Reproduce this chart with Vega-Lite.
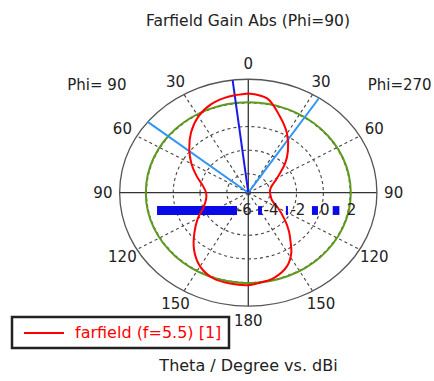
{
  "$schema": "https://vega.github.io/schema/vega-lite/v6.json",
  "width": 434,
  "height": 311,
  "autosize": {"type": "none"},
  "padding": {"top": 40, "bottom": 30, "left": 0, "right": 0},
  "background": "white",
  "config": {"view": {"stroke": null}, "font": "DejaVu Sans", "legend": {"strokeWidth": 2.5}},
  "title": {"text": "Farfield Gain Abs (Phi=90)", "font": "DejaVu Sans", "fontSize": 15.5, "fontWeight": "normal", "color": "#222", "anchor": "middle", "dx": 31, "offset": -1, "baseline": "alphabetic", "frame": "group"},
  "datasets": {
    "pattern": [
      {"phi": 90, "theta": 0, "gain": 2.8}, {"phi": 90, "theta": 10, "gain": 2.67}, {"phi": 90, "theta": 20, "gain": 2.4},
      {"phi": 90, "theta": 30, "gain": 1.85}, {"phi": 90, "theta": 40, "gain": 1.05}, {"phi": 90, "theta": 50, "gain": 0.15},
      {"phi": 90, "theta": 60, "gain": -0.7}, {"phi": 90, "theta": 70, "gain": -1.5}, {"phi": 90, "theta": 80, "gain": -2.15},
      {"phi": 90, "theta": 90, "gain": -2.45}, {"phi": 90, "theta": 100, "gain": -2.4}, {"phi": 90, "theta": 110, "gain": -2.05},
      {"phi": 90, "theta": 120, "gain": -1.25}, {"phi": 90, "theta": 130, "gain": -0.35}, {"phi": 90, "theta": 140, "gain": 0.7},
      {"phi": 90, "theta": 150, "gain": 1.6}, {"phi": 90, "theta": 160, "gain": 2.1}, {"phi": 90, "theta": 170, "gain": 2.2},
      {"phi": 90, "theta": 180, "gain": 2.22},
      {"phi": 270, "theta": 175, "gain": 2.1}, {"phi": 270, "theta": 165, "gain": 1.85}, {"phi": 270, "theta": 155, "gain": 1.25},
      {"phi": 270, "theta": 148, "gain": 0.45}, {"phi": 270, "theta": 142, "gain": -0.5}, {"phi": 270, "theta": 137, "gain": -1.15},
      {"phi": 270, "theta": 130, "gain": -2.05}, {"phi": 270, "theta": 120, "gain": -3.05}, {"phi": 270, "theta": 110, "gain": -3.72},
      {"phi": 270, "theta": 98, "gain": -3.92}, {"phi": 270, "theta": 87, "gain": -3.98}, {"phi": 270, "theta": 75, "gain": -3.85},
      {"phi": 270, "theta": 67, "gain": -3.55}, {"phi": 270, "theta": 62, "gain": -3.25}, {"phi": 270, "theta": 55, "gain": -2.7},
      {"phi": 270, "theta": 48, "gain": -1.9}, {"phi": 270, "theta": 40, "gain": -1.0}, {"phi": 270, "theta": 30, "gain": 0.18},
      {"phi": 270, "theta": 20, "gain": 1.28}, {"phi": 270, "theta": 10, "gain": 2.5}, {"phi": 270, "theta": 0, "gain": 2.8}
    ],
    "rings": [
      {"level": -4, "kind": "grid"}, {"level": -2, "kind": "grid"}, {"level": 0, "kind": "grid"}, {"level": 2, "kind": "grid"},
      {"level": 2.05, "kind": "ref"}, {"level": 4, "kind": "outer"}
    ],
    "spokes": [
      {"phi": 90, "theta": 0}, {"phi": 90, "theta": 90}, {"phi": 270, "theta": 90}, {"phi": 90, "theta": 180},
      {"phi": 90, "theta": 30}, {"phi": 90, "theta": 60}, {"phi": 90, "theta": 120}, {"phi": 90, "theta": 150},
      {"phi": 270, "theta": 30}, {"phi": 270, "theta": 60}, {"phi": 270, "theta": 120}, {"phi": 270, "theta": 150}
    ],
    "beams": [
      {"phi": 90, "theta": 7, "kind": "main"},
      {"phi": 90, "theta": 51.4, "kind": "width"},
      {"phi": 270, "theta": 33.4, "kind": "width"}
    ],
    "angleLabels": [
      {"phi": 90, "theta": 0, "label": "0"}, {"phi": 90, "theta": 30, "label": "30"}, {"phi": 90, "theta": 60, "label": "60"},
      {"phi": 90, "theta": 90, "label": "90"}, {"phi": 90, "theta": 120, "label": "120"}, {"phi": 90, "theta": 150, "label": "150"},
      {"phi": 90, "theta": 180, "label": "180"},
      {"phi": 270, "theta": 30, "label": "30"}, {"phi": 270, "theta": 60, "label": "60"}, {"phi": 270, "theta": 90, "label": "90"},
      {"phi": 270, "theta": 120, "label": "120"}, {"phi": 270, "theta": 150, "label": "150"}
    ],
    "dbLabels": [
      {"gain": -6, "label": "-6"}, {"gain": -4, "label": "-4"}, {"gain": -2, "label": "-2"}, {"gain": 0, "label": "0"}, {"gain": 2, "label": "2"}
    ],
    "bars": [
      {"from": -6.81, "to": -0.84}, {"from": 0.73, "to": 1.02}, {"from": 2.81, "to": 2.96}, {"from": 4.75, "to": 5.2}, {"from": 6.3, "to": 6.8}
    ],
    "phiLabels": [
      {"phi": 90, "label": "Phi= 90"}, {"phi": 270, "label": "Phi=270"}
    ]
  },
  "encoding": {
    "x": {"field": "x", "type": "quantitative", "scale": {"domain": [-18.53, 13.86], "nice": false, "zero": false},
      "axis": {"title": "Theta / Degree vs. dBi", "labels": false, "ticks": false, "domain": false, "grid": false,
        "titleFont": "DejaVu Sans", "titleFontSize": 16, "titleFontWeight": "normal", "titleColor": "#222", "titlePadding": 6, "titleX": 248}},
    "y": {"field": "y", "type": "quantitative", "scale": {"domain": [-13.39, 12.92], "nice": false, "zero": false}, "axis": null}
  },
  "layer": [
    {
      "data": {"name": "rings"},
      "transform": [{"filter": "datum.kind == 'grid'"}, {"calculate": "datum.level + 5.6", "as": "r"}, {"calculate": "0", "as": "x"}, {"calculate": "0", "as": "y"}],
      "mark": {"type": "point", "shape": "M-1,0A1,0.882,0,1,1,1,0A1,0.882,0,1,1,-1,0Z", "filled": false, "fill": null, "stroke": "#444", "strokeWidth": 1.1, "strokeDash": [3, 3], "opacity": 1},
      "encoding": {"size": {"field": "r", "type": "quantitative", "scale": {"type": "pow", "exponent": 2, "domain": [0, 9.6], "range": [0, 66193]}, "legend": null}}
    },
    {
      "data": {"name": "spokes"},
      "transform": [{"filter": "datum.theta % 90 != 0"}, {"calculate": "0", "as": "x"}, {"calculate": "0", "as": "y"},
        {"calculate": "9.6 * sin(datum.theta * PI / 180) * (datum.phi == 90 ? -1 : 1)", "as": "x2"},
        {"calculate": "9.6 * cos(datum.theta * PI / 180)", "as": "y2"}],
      "mark": {"type": "rule", "stroke": "#444", "strokeWidth": 1.1, "strokeDash": [3, 3]},
      "encoding": {"x2": {"field": "x2"}, "y2": {"field": "y2"}}
    },
    {
      "data": {"name": "spokes"},
      "transform": [{"filter": "datum.theta % 90 == 0"}, {"calculate": "0", "as": "x"}, {"calculate": "0", "as": "y"},
        {"calculate": "9.6 * sin(datum.theta * PI / 180) * (datum.phi == 90 ? -1 : 1)", "as": "x2"},
        {"calculate": "9.6 * cos(datum.theta * PI / 180)", "as": "y2"}],
      "mark": {"type": "rule", "stroke": "#333", "strokeWidth": 1.3},
      "encoding": {"x2": {"field": "x2"}, "y2": {"field": "y2"}}
    },
    {
      "data": {"name": "rings"},
      "transform": [{"filter": "datum.kind == 'outer'"}, {"calculate": "datum.level + 5.6", "as": "r"}, {"calculate": "0", "as": "x"}, {"calculate": "0", "as": "y"}],
      "mark": {"type": "point", "shape": "M-1,0A1,0.882,0,1,1,1,0A1,0.882,0,1,1,-1,0Z", "filled": false, "fill": null, "stroke": "#555", "strokeWidth": 1.3, "opacity": 1},
      "encoding": {"size": {"field": "r", "type": "quantitative", "scale": {"type": "pow", "exponent": 2, "domain": [0, 9.6], "range": [0, 66193]}, "legend": null}}
    },
    {
      "data": {"name": "rings"},
      "transform": [{"filter": "datum.kind == 'ref'"}, {"calculate": "datum.level + 5.6", "as": "r"}, {"calculate": "0", "as": "x"}, {"calculate": "0", "as": "y"}],
      "mark": {"type": "point", "shape": "M-1,0A1,0.882,0,1,1,1,0A1,0.882,0,1,1,-1,0Z", "filled": false, "fill": null, "stroke": "#5f9a1f", "strokeWidth": 2, "opacity": 1},
      "encoding": {"size": {"field": "r", "type": "quantitative", "scale": {"type": "pow", "exponent": 2, "domain": [0, 9.6], "range": [0, 66193]}, "legend": null}}
    },
    {
      "data": {"name": "beams"},
      "transform": [{"filter": "datum.kind == 'width'"}, {"calculate": "0", "as": "x"}, {"calculate": "0", "as": "y"},
        {"calculate": "9.6 * sin(datum.theta * PI / 180) * (datum.phi == 90 ? -1 : 1)", "as": "x2"},
        {"calculate": "9.6 * cos(datum.theta * PI / 180)", "as": "y2"}],
      "mark": {"type": "rule", "stroke": "#2f96f5", "strokeWidth": 2},
      "encoding": {"x2": {"field": "x2"}, "y2": {"field": "y2"}}
    },
    {
      "data": {"name": "beams"},
      "transform": [{"filter": "datum.kind == 'main'"}, {"calculate": "0", "as": "x"}, {"calculate": "0", "as": "y"},
        {"calculate": "9.6 * sin(datum.theta * PI / 180) * (datum.phi == 90 ? -1 : 1)", "as": "x2"},
        {"calculate": "9.6 * cos(datum.theta * PI / 180)", "as": "y2"}],
      "mark": {"type": "rule", "stroke": "#1a1ae6", "strokeWidth": 2},
      "encoding": {"x2": {"field": "x2"}, "y2": {"field": "y2"}}
    },
    {
      "data": {"name": "bars"},
      "transform": [{"calculate": "datum.from", "as": "x"}, {"calculate": "datum.to", "as": "x2"}, {"calculate": "-1.13", "as": "y"}, {"calculate": "-1.88", "as": "y2"}],
      "mark": {"type": "rect", "fill": "#0a0ae8"},
      "encoding": {"x2": {"field": "x2"}, "y2": {"field": "y2"}}
    },
    {
      "data": {"name": "pattern"},
      "transform": [
        {"calculate": "datum.gain + 5.6", "as": "r"},
        {"calculate": "datum.r * sin(datum.theta * PI / 180) * (datum.phi == 90 ? -1 : 1)", "as": "x"},
        {"calculate": "datum.r * cos(datum.theta * PI / 180)", "as": "y"},
        {"calculate": "datum.phi == 90 ? datum.theta : 360 - datum.theta", "as": "seq"}
      ],
      "mark": {"type": "line", "strokeWidth": 2, "interpolate": "catmull-rom"},
      "encoding": {
        "order": {"field": "seq", "type": "quantitative"},
        "color": {"datum": "farfield (f=5.5) [1]", "type": "nominal", "scale": {"range": ["#ff0000"]},
          "legend": {"title": null, "orient": "none", "legendX": 12, "legendY": 277, "strokeColor": "#222", "fillColor": "white",
            "padding": 7, "symbolType": "M-0.5,0H4.5", "symbolSize": 256, "symbolStrokeWidth": 2, "labelOffset": 38, "labelFont": "DejaVu Sans",
            "labelFontSize": 16, "labelColor": "#ff0000", "labelLimit": 400, "cornerRadius": 0}}
      }
    },
    {
      "data": {"name": "dbLabels"},
      "transform": [{"calculate": "datum.gain + 5.7", "as": "x"}, {"calculate": "-1.46", "as": "y"}],
      "mark": {"type": "text", "font": "DejaVu Sans", "fontSize": 15, "fill": "#222", "align": "center", "baseline": "middle"},
      "encoding": {"text": {"field": "label"}}
    },
    {
      "data": {"name": "angleLabels"},
      "transform": [
        {"calculate": "10.85 * sin(datum.theta * PI / 180) * (datum.phi == 90 ? -1 : 1)", "as": "x"},
        {"calculate": "10.85 * cos(datum.theta * PI / 180)", "as": "y"}
      ],
      "mark": {"type": "text", "font": "DejaVu Sans", "fontSize": 15, "fill": "#222", "align": "center", "baseline": "middle"},
      "encoding": {"text": {"field": "label"}}
    },
    {
      "data": {"name": "phiLabels"},
      "transform": [{"calculate": "datum.phi == 90 ? -11.3 : 11.3", "as": "x"}, {"calculate": "9.1", "as": "y"}],
      "mark": {"type": "text", "font": "DejaVu Sans", "fontSize": 15, "fill": "#222", "align": "center", "baseline": "middle"},
      "encoding": {"text": {"field": "label"}}
    }
  ]
}
